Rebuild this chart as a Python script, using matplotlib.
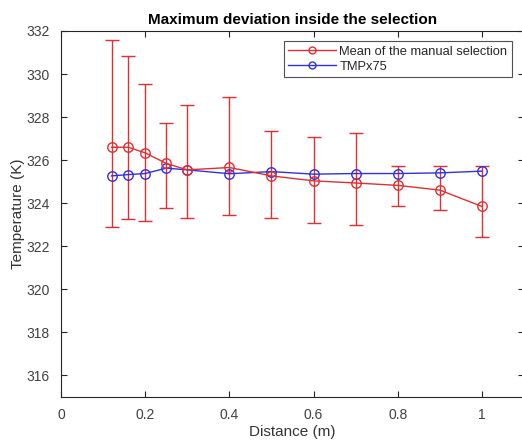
import matplotlib
matplotlib.use("Agg")
import matplotlib.pyplot as plt
from matplotlib.lines import Line2D

plt.rcParams['font.family'] = ['Liberation Sans', 'DejaVu Sans']

distance = [0.12, 0.16, 0.2, 0.25, 0.3, 0.4, 0.5, 0.6, 0.7, 0.8, 0.9, 1.0]
manual_mean = [326.6, 326.6, 326.34, 325.85, 325.55, 325.66, 325.27, 325.04, 324.94, 324.83, 324.61, 323.85]
manual_upper = [331.58, 330.84, 329.54, 327.75, 328.58, 328.94, 327.36, 327.08, 327.25, 325.72, 325.75, 325.71]
manual_lower = [322.88, 323.26, 323.17, 323.78, 323.33, 323.47, 323.31, 323.08, 322.97, 323.88, 323.7, 322.43]
tmp_values = [325.27, 325.33, 325.38, 325.63, 325.55, 325.37, 325.47, 325.35, 325.38, 325.38, 325.41, 325.49]
xticks = [0, 0.2, 0.4, 0.6, 0.8, 1]
xticklabels = ['0', '0.2', '0.4', '0.6', '0.8', '1']
yticks = [316, 318, 320, 322, 324, 326, 328, 330, 332]
labels = ['Mean of the manual selection', 'TMPx75']

W, H = 522, 447
fig = plt.figure(figsize=(W / 100, H / 100), dpi=100)
ax = fig.add_axes([61 / W, (H - 397) / H, 463 / W, (397 - 31) / H])

red = '#e03030'
blue = '#3030e0'

yerr_lo = [m - l for m, l in zip(manual_mean, manual_lower)]
yerr_hi = [u - m for m, u in zip(manual_mean, manual_upper)]
ax.errorbar(distance, manual_mean, yerr=[yerr_lo, yerr_hi], color=red, marker='o',
            markersize=6.8, markerfacecolor='none', markeredgewidth=1.0, linewidth=1.0,
            capsize=5, elinewidth=1.0, capthick=1.0)
ax.plot(distance, tmp_values, color=blue, marker='o', markersize=6.8,
        markerfacecolor='none', markeredgewidth=1.0, linewidth=1.0)

ax.set_xlim(0, 1.1)
ax.set_ylim(315, 332)
ax.set_xticks(xticks)
ax.set_xticklabels(xticklabels)
ax.set_yticks(yticks)

ax.tick_params(direction='in', length=4, width=0.8, colors='#262626',
               labelcolor='#404040', labelsize=10, top=True, right=True, pad=8)
for s in ax.spines.values():
    s.set_color('#262626')
    s.set_linewidth(0.8)

ax.set_xlabel('Distance (m)', fontsize=11, color='#333333', labelpad=2)
ax.set_ylabel('Temperature (K)', fontsize=11, color='#333333', labelpad=1)
ax.set_title('Maximum deviation inside the selection', fontsize=11, fontweight='bold', pad=5)

handles = [Line2D([], [], color=red, marker='o', markersize=5, markerfacecolor='none', linewidth=1.0),
           Line2D([], [], color=blue, marker='o', markersize=5, markerfacecolor='none', linewidth=1.0)]
leg = ax.legend(handles, labels, loc='upper right', bbox_to_anchor=(451 / 463, 1 - 10 / 366),
                fontsize=9.3, frameon=True, fancybox=False, edgecolor='#262626', borderpad=0.35,
                handlelength=3.7, handletextpad=0.25, labelspacing=0.25, borderaxespad=0)
leg.get_frame().set_linewidth(0.8)
for t in leg.get_texts():
    t.set_color('#262626')

fig.savefig('out.png', dpi=100)
